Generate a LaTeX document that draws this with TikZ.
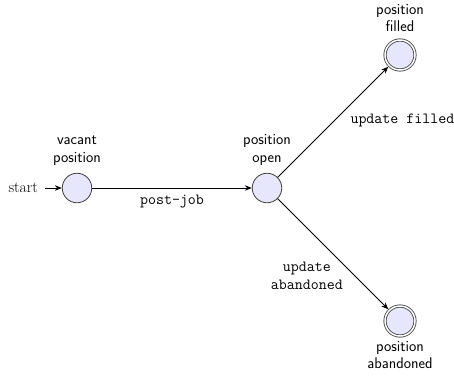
\documentclass[tikz,border=0pt]{standalone}
\usetikzlibrary{arrows.meta}
\definecolor{statefill}{RGB}{230,230,252}
\begin{document}
\begin{tikzpicture}[x=1pt,y=-1pt,
  every node/.style={font=\fontsize{15.5}{17.6}\selectfont},
  stt/.style={circle, draw=black!75, fill=statefill, line width=0.8pt, minimum size=29.5pt, inner sep=0pt},
  acc/.style={stt, double=white, double distance=1.5pt, minimum size=30pt, outer sep=1.55pt},
  slabel/.style={align=center, font=\fontsize{15.5}{17.6}\selectfont\sffamily},
  elabel/.style={font=\fontsize{15.5}{17.6}\selectfont\ttfamily},
  tr/.style={-{Stealth[length=7pt,width=5.5pt]}, line width=0.8pt}
]
\useasboundingbox (0,0) rectangle (454,378);
\node[stt, label={[slabel, label distance=4pt]above:{vacant\\position}}] (vacant) at (77,188) {};
\node[stt, label={[slabel, label distance=4pt]above:{position\\open}}] (open) at (267,188) {};
\node[acc, label={[slabel, label distance=3pt]above:{position\\filled}}] (filled) at (400,55) {};
\node[acc, label={[slabel, label distance=0pt]below:{position\\abandoned}}] (aband) at (400,321) {};
\node[anchor=east, inner sep=0pt] (start) at (38,188) {start};
\draw[tr, shorten <=7pt] (start) -- (vacant);
\draw[tr] (vacant) -- node[elabel, below, yshift=-3pt] (lpost) {post-job} (open);
\draw[tr] (open) -- node[elabel, pos=0.517, anchor=west, xshift=11.9pt] (lfill) {update filled} (filled);
\draw[tr] (open) -- node[elabel, pos=0.695, anchor=east, xshift=-8pt, align=center] (laband) {update\\abandoned} (aband);
\end{tikzpicture}
\end{document}
